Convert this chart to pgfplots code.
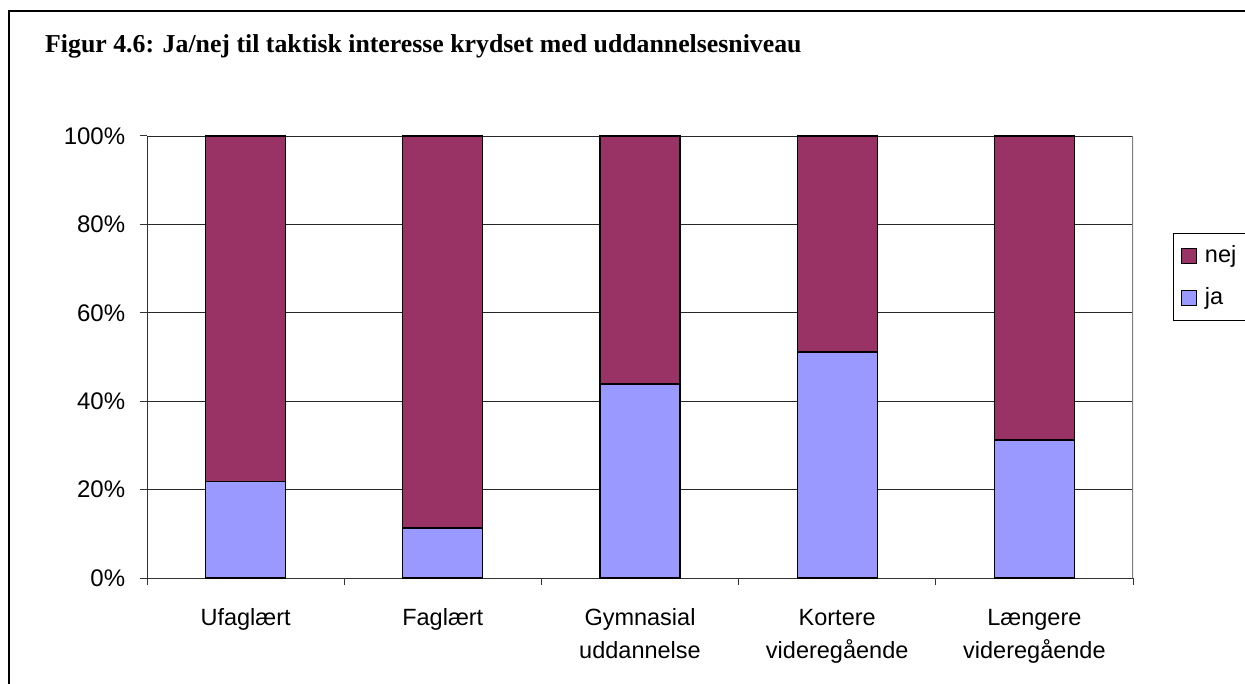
\documentclass[border=0pt]{standalone}
\usepackage{fontspec}
\setmainfont{Liberation Sans}
\newfontfamily\titlefont{Liberation Serif}
\usepackage{pgfplots}
\pgfplotsset{compat=1.18}
\definecolor{nejc}{HTML}{993366}
\definecolor{jac}{HTML}{9999FF}
\begin{document}
\begin{tikzpicture}
\fontsize{23}{27}\selectfont
\draw[line width=1.5pt] (9pt,-11pt) rectangle (1400pt,-800pt);
\node[anchor=base west, font=\titlefont\bfseries\fontsize{25.8}{30}\selectfont, inner sep=0pt] at (45pt,-53pt) {Figur 4.6: Ja/nej til taktisk interesse krydset med uddannelsesniveau};
\begin{axis}[
  at={(147pt,-578pt)}, anchor=south west,
  scale only axis, width=986pt, height=442pt,
  ybar stacked, bar width=80pt,
  xmin=-0.5, xmax=4.5, ymin=0, ymax=100,
  axis x line*=bottom, axis y line*=left,
  axis line style={line width=1pt, color=black!80},
  xtick={-0.5,0.5,1.5,2.5,3.5,4.5},
  xticklabel=\empty,
  extra x ticks={0,1,2,3,4},
  extra x tick labels={Ufaglært, Faglært, {Gymnasial\\uddannelse}, {Kortere\\videregående}, {Længere\\videregående}},
  extra x tick style={major tick length=0pt, tick style={draw=none},
    xticklabel style={align=center, font=\fontsize{23.5}{33}\selectfont, yshift=-23pt}},
  major tick length=7pt,
  tick align=outside,
  tick style={line width=1pt, color=black!80},
  ytick={0,20,40,60,80,100},
  yticklabels={0\%,20\%,40\%,60\%,80\%,100\%},
  yticklabel style={font=\fontsize{24}{28}\selectfont, xshift=-7pt},
  ymajorgrids=true,
  major grid style={line width=0.9pt, color=black!85},
  legend style={at={(1.0406,0.7805)}, anchor=north west, draw=black, line width=0.9pt,
    font=\fontsize{23.5}{27}\selectfont, row sep=18pt, inner xsep=8pt, inner ysep=10pt,
    legend cell align=left},
  legend image code/.code={\draw[#1, draw=black, line width=1pt] (0pt,-7.5pt) rectangle (15pt,7.5pt); \path[draw=none, fill=none] (0pt,0pt) -- (21pt,0pt);},
  reverse legend,
]
\addplot[fill=jac, draw=black, line width=1.3pt] coordinates {(0,21.8) (1,11.3) (2,43.9) (3,51.1) (4,31.2)};
\addplot[fill=nejc, draw=black, line width=1.3pt] coordinates {(0,78.2) (1,88.7) (2,56.1) (3,48.9) (4,68.8)};
\legend{ja, nej}
\draw[color=black!50, line width=1.5pt] (rel axis cs:1,0) -- (rel axis cs:1,1);
\end{axis}
\pgfresetboundingbox
\useasboundingbox (0pt,0pt) rectangle (1245pt,-684pt);
\end{tikzpicture}
\end{document}
